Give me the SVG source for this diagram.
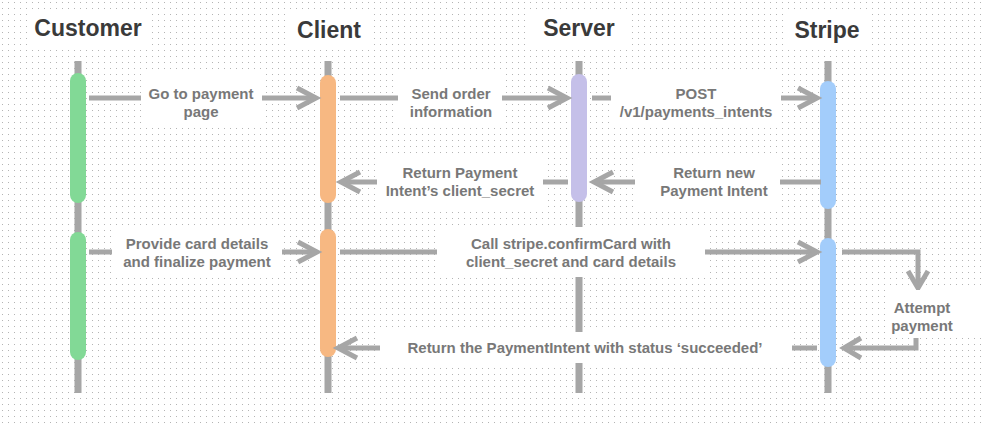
<svg xmlns="http://www.w3.org/2000/svg" width="982" height="423" viewBox="0 0 982 423">
  <defs>
    <pattern id="dots" x="0" y="0" width="6" height="6" patternUnits="userSpaceOnUse">
      <rect x="2" y="2" width="1" height="1" fill="#b4b4b4"/>
    </pattern>
  </defs>
  <style>
    .life { stroke: #a6a6a6; stroke-width: 7; fill: none; }
    .conn { stroke: #a6a6a6; stroke-width: 5; fill: none; stroke-linejoin: miter; stroke-linecap: butt; }
    .head { stroke: #a6a6a6; stroke-width: 5; fill: none; stroke-linejoin: miter; stroke-linecap: butt; }
    .hdr { font-family: "Liberation Sans", Arial, sans-serif; font-weight: bold; font-size: 23px; fill: #3a3a3a; text-anchor: middle; }
    .lbl { font-family: "Liberation Sans", Arial, sans-serif; font-weight: bold; font-size: 15px; fill: #787878; text-anchor: middle; }
    .box { fill: #ffffff; }
  </style>

  <rect x="0" y="0" width="982" height="423" fill="#ffffff"/>
  <rect x="0" y="0" width="982" height="423" fill="url(#dots)"/>

  <!-- Participants -->
  <g id="customer">
    <rect class="box" x="27" y="12" width="121" height="35"/>
    <text class="hdr" x="88" y="36">Customer</text>
    <line class="life" x1="78" y1="61" x2="78" y2="393"/>
    <rect x="70" y="73" width="16" height="130" rx="8" fill="#82d996"/>
    <rect x="70" y="232" width="16" height="128" rx="8" fill="#82d996"/>
  </g>
  <g id="client">
    <rect class="box" x="285" y="11" width="87" height="36"/>
    <text class="hdr" x="329" y="38">Client</text>
    <line class="life" x1="328" y1="61" x2="328" y2="393"/>
    <rect x="320" y="75" width="16" height="128" rx="8" fill="#f7b882"/>
    <rect x="320" y="229" width="16" height="128" rx="8" fill="#f7b882"/>
  </g>
  <g id="server">
    <rect class="box" x="527" y="11" width="101" height="36"/>
    <text class="hdr" x="579" y="36">Server</text>
    <line class="life" x1="579" y1="61" x2="579" y2="393"/>
    <rect x="571" y="74" width="16" height="128" rx="8" fill="#c5c0e9"/>
  </g>
  <g id="stripe">
    <rect class="box" x="787" y="13" width="83" height="36"/>
    <text class="hdr" x="827" y="38">Stripe</text>
    <line class="life" x1="828" y1="61" x2="828" y2="393"/>
    <rect x="820" y="81" width="16" height="128" rx="8" fill="#a3cdfb"/>
    <rect x="820" y="238" width="16" height="129" rx="8" fill="#a3cdfb"/>
  </g>

  <!-- Connectors -->
  <g id="connectors">
    <!-- 1 Customer -> Client -->
    <line class="conn" x1="89" y1="98" x2="314" y2="98"/>
    <polyline class="head" points="297,88 316,98 297,108"/>
    <!-- 2 Client -> Server -->
    <line class="conn" x1="340" y1="98" x2="565" y2="98"/>
    <polyline class="head" points="548,88 567,98 548,108"/>
    <!-- 3 Server -> Stripe -->
    <line class="conn" x1="592" y1="98" x2="815" y2="98"/>
    <polyline class="head" points="798,88 817,98 798,108"/>
    <!-- 4 Stripe -> Server -->
    <line class="conn" x1="821" y1="182" x2="596" y2="182"/>
    <polyline class="head" points="613,172 594,182 613,192"/>
    <!-- 5 Server -> Client -->
    <line class="conn" x1="568" y1="182" x2="343" y2="182"/>
    <polyline class="head" points="360,172 341,182 360,192"/>
    <!-- 6 Customer -> Client -->
    <line class="conn" x1="89" y1="252" x2="315" y2="252"/>
    <polyline class="head" points="298,242 317,252 298,262"/>
    <!-- 7 Client -> Stripe -->
    <line class="conn" x1="340" y1="252" x2="815" y2="252"/>
    <polyline class="head" points="798,242 817,252 798,262"/>
    <!-- 8 Stripe -> Client -->
    <line class="conn" x1="817" y1="348" x2="340" y2="348"/>
    <polyline class="head" points="357,338 338,348 357,358"/>
    <!-- self: Stripe attempt payment -->
    <polyline class="conn" points="842,252 918,252 918,286"/>
    <polyline class="head" points="908,271 918,288 928,271"/>
    <polyline class="conn" points="916,338 916,348 846,348"/>
    <polyline class="head" points="861,338 844,348 861,358"/>

    <!-- labels -->
    <g id="label-1">
      <rect class="box" x="141" y="74" width="121" height="50"/>
      <text class="lbl" x="201" y="99">Go to payment</text>
      <text class="lbl" x="201" y="117">page</text>
    </g>
    <g id="label-2">
      <rect class="box" x="398" y="74" width="104" height="50"/>
      <text class="lbl" x="451" y="99">Send order</text>
      <text class="lbl" x="451" y="117">information</text>
    </g>
    <g id="label-3">
      <rect class="box" x="611" y="74" width="170" height="50"/>
      <text class="lbl" x="696" y="99">POST</text>
      <text class="lbl" x="696" y="117">/v1/payments_intents</text>
    </g>
    <g id="label-4">
      <rect class="box" x="635" y="157" width="145" height="50"/>
      <text class="lbl" x="714" y="178">Return new</text>
      <text class="lbl" x="714" y="196">Payment Intent</text>
    </g>
    <g id="label-5">
      <rect class="box" x="377" y="157" width="166" height="50"/>
      <text class="lbl" x="460" y="178">Return Payment</text>
      <text class="lbl" x="460" y="196">Intent’s client_secret</text>
    </g>
    <g id="label-6">
      <rect class="box" x="112" y="227" width="170" height="50"/>
      <text class="lbl" x="197" y="249">Provide card details</text>
      <text class="lbl" x="197" y="267">and finalize payment</text>
    </g>
    <g id="label-7">
      <rect class="box" x="437" y="227" width="268" height="50"/>
      <text class="lbl" x="571" y="249">Call stripe.confirmCard with</text>
      <text class="lbl" x="571" y="267">client_secret and card details</text>
    </g>
    <g id="label-8">
      <rect class="box" x="380" y="332" width="412" height="31"/>
      <text class="lbl" x="585" y="353">Return the PaymentIntent with status ‘succeeded’</text>
    </g>
    <g id="label-9">
      <rect class="box" x="887" y="290" width="95" height="46"/>
      <text class="lbl" x="922" y="313">Attempt</text>
      <text class="lbl" x="922" y="331">payment</text>
    </g>
  </g>
</svg>
